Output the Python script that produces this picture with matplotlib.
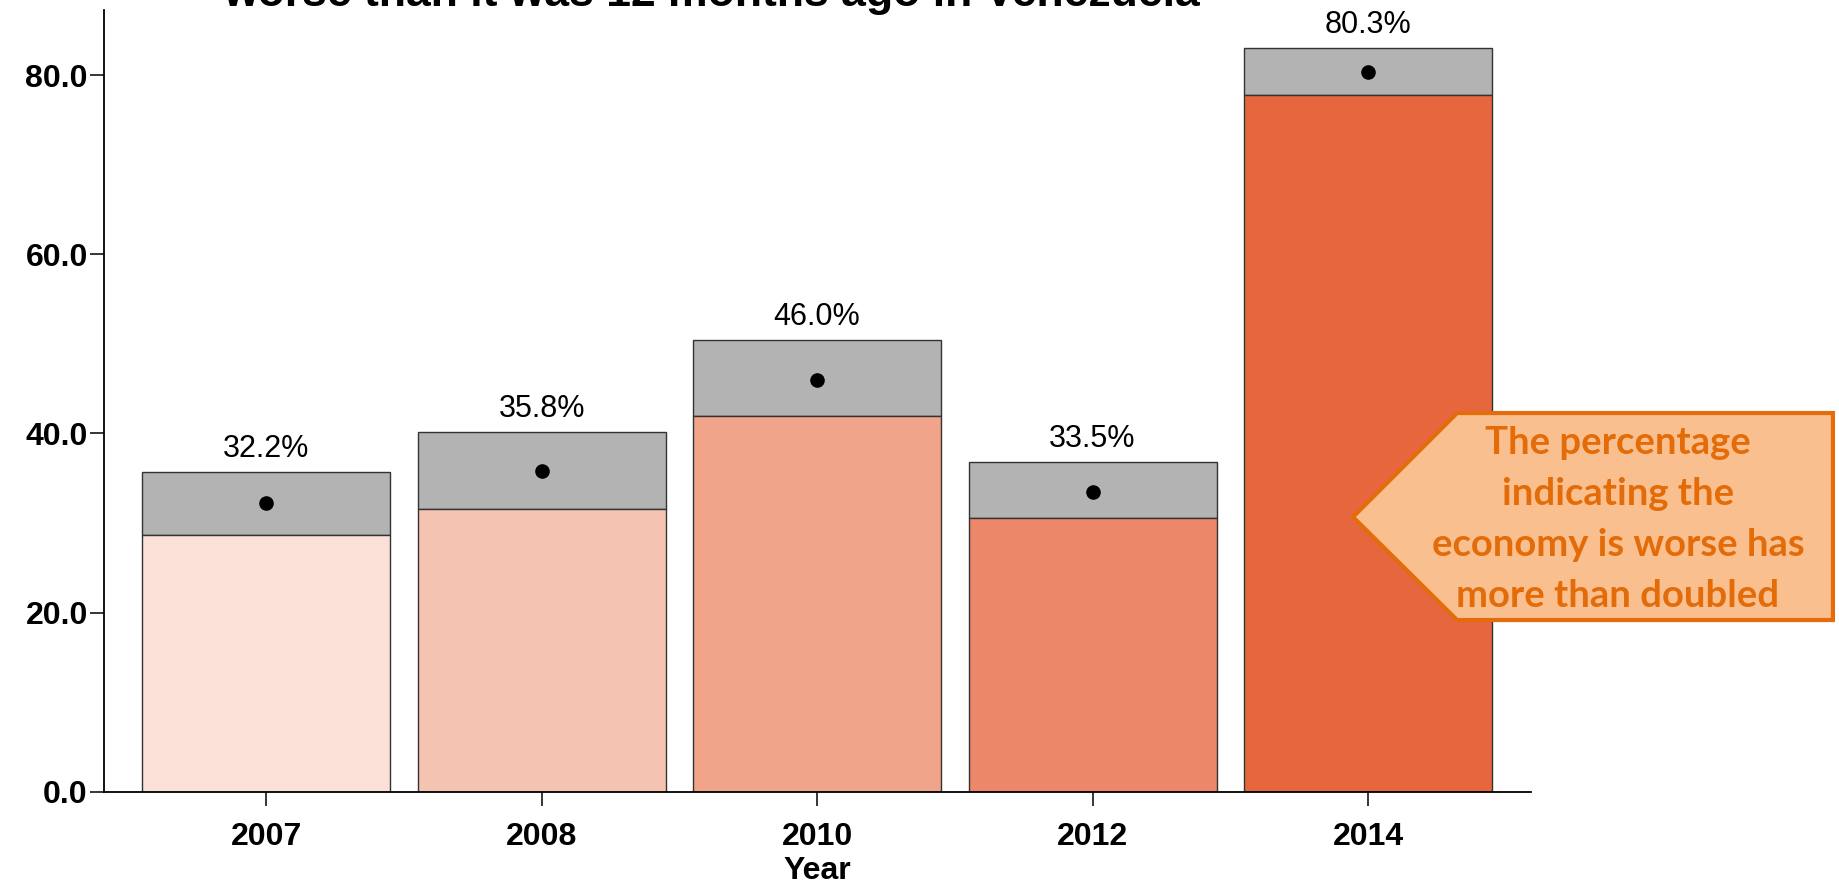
import numpy as np
import matplotlib.pyplot as plt
from matplotlib.patches import Polygon

plt.rcParams['font.family'] = ['Liberation Sans', 'DejaVu Sans']

years = ['2007', '2008', '2010', '2012', '2014']
pct = [32.2, 35.8, 46.0, 33.5, 80.3]
lower = [28.7, 31.6, 41.9, 30.5, 77.8]
upper = [35.7, 40.1, 50.4, 36.8, 83.0]
colors = ['#fae0d6', '#f4c3b1', '#f0a48a', '#ec8769', '#e6673e']
yticks = [0, 20, 40, 60, 80]

fig = plt.figure(figsize=(18.39, 8.85), dpi=100)
ax = fig.add_axes([0.0568, 0.1055, 0.7755, 0.8835])

x = np.arange(len(years))
lo = np.array(lower)
up = np.array(upper)

# CI band in grey, coloured bar up to the lower bound
ax.bar(x, up - lo, bottom=lo, width=0.9, color='#b3b3b3', edgecolor='#333333', linewidth=1)
ax.bar(x, lo, width=0.9, color=colors, edgecolor='#333333', linewidth=1)
ax.scatter(x, pct, s=90, color='black', zorder=3)

for xi, u, p in zip(x, up, pct):
    ax.annotate('%.1f%%' % p, (xi, u), xytext=(0, 6), textcoords='offset points',
                ha='center', va='bottom', fontsize=22)

ax.set_xlim(-0.587, 4.59)
ax.set_ylim(0, 87.3)
ax.set_xticks(x)
ax.set_xticklabels(years)
ax.set_yticks(yticks)
ax.set_yticklabels(['%.1f' % v for v in yticks])
for sp in ['top', 'right']:
    ax.spines[sp].set_visible(False)
for sp in ['left', 'bottom']:
    ax.spines[sp].set_linewidth(1.3)
ax.tick_params(axis='both', length=10, width=1.1, labelsize=23)
ax.tick_params(axis='y', pad=2)
ax.tick_params(axis='x', pad=12)
for lab in ax.get_xticklabels() + ax.get_yticklabels():
    lab.set_fontweight('bold')
ax.set_xlabel('Year', fontsize=23, fontweight='bold', labelpad=3)

fig.text(0.387, 1 - 6 / 885, 'worse than it was 12 months ago in Venezuela',
         ha='center', va='baseline', fontsize=32, fontweight='bold')

# callout arrow
pts = [(0.7357, 0.4158), (0.7923, 0.5333), (0.9967, 0.5333),
       (0.9967, 0.2994), (0.7923, 0.2994)]
fig.patches.append(Polygon(pts, closed=True, transform=fig.transFigure,
                           facecolor='#f9bf8f', edgecolor='#e46c0a', linewidth=3))
fig.text(0.8798, 0.413, 'The percentage\nindicating the\neconomy is worse has\nmore than doubled',
         ha='center', va='center', fontsize=27.5, fontweight='bold', color='#e36c09',
         family=['Lato', 'DejaVu Sans'], linespacing=1.6)

fig.savefig('out.png', dpi=100)
